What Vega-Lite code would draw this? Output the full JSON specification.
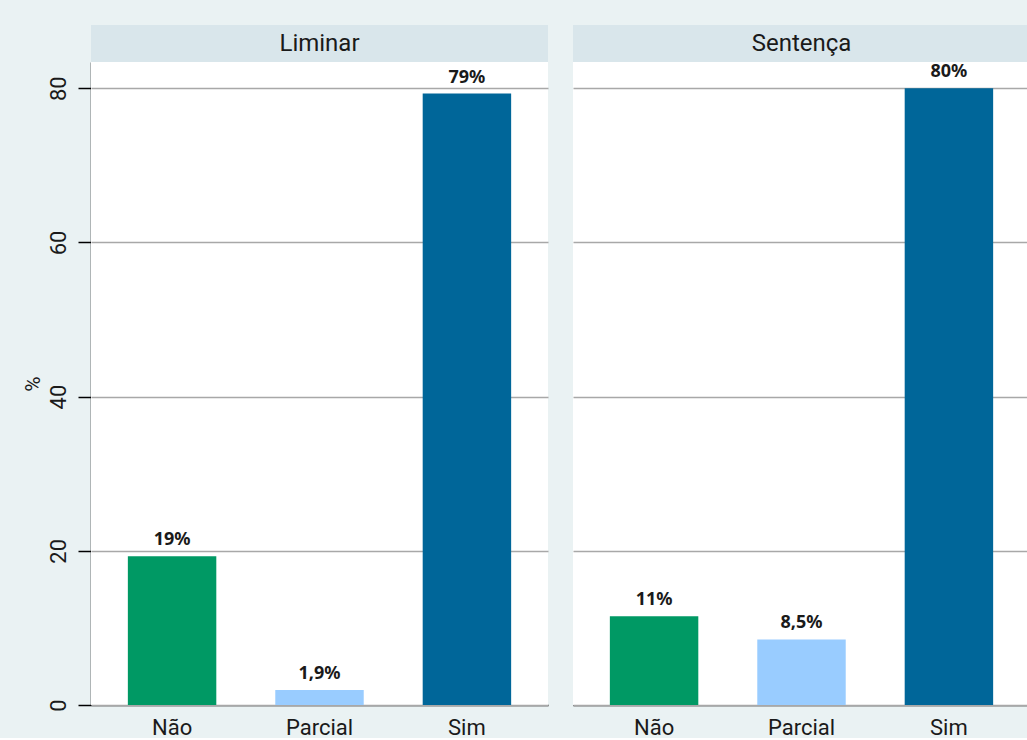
{
  "$schema": "https://vega.github.io/schema/vega-lite/v6.json",
  "background": "#EAF2F3",
  "padding": {"left": 22, "top": 25, "right": 0, "bottom": 0},
  "spacing": 0,
  "datasets": {
    "panels": [{"panel": "Liminar"}, {"panel": "Sentença"}],
    "bars": [
      {"panel": "Liminar", "cat": "Não", "value": 19.3, "label": "19%"},
      {"panel": "Liminar", "cat": "Parcial", "value": 1.95, "label": "1,9%"},
      {"panel": "Liminar", "cat": "Sim", "value": 79.3, "label": "79%"},
      {"panel": "Sentença", "cat": "Não", "value": 11.5, "label": "11%"},
      {"panel": "Sentença", "cat": "Parcial", "value": 8.5, "label": "8,5%"},
      {"panel": "Sentença", "cat": "Sim", "value": 80.0, "label": "80%"}
    ]
  },
  "vconcat": [
    {
      "data": {"name": "panels"},
      "facet": {
        "column": {"field": "panel", "type": "nominal", "sort": ["Liminar", "Sentença"], "header": {"title": null, "labels": false}}
      },
      "spacing": 25,
      "spec": {
        "width": 457,
        "height": 37,
        "view": {"fill": "#D9E6EB", "stroke": null},
        "mark": {"type": "text", "font": "Roboto", "fontSize": 24, "color": "#1a1a1a", "baseline": "middle"},
        "encoding": {
          "text": {"field": "panel"},
          "y": {
            "datum": 0.5,
            "type": "quantitative",
            "scale": {"domain": [0, 1]},
            "axis": {"title": "%", "values": [0.5], "labelExpr": "'00'", "labelColor": "transparent", "titleColor": "transparent", "tickColor": "transparent", "domainColor": "transparent", "grid": false}
          }
        }
      }
    },
    {
      "data": {"name": "bars"},
      "facet": {
        "column": {"field": "panel", "type": "nominal", "sort": ["Liminar", "Sentença"], "header": {"title": null, "labels": false}}
      },
      "spacing": 25,
      "spec": {
        "width": 457,
        "height": 643,
        "view": {"fill": "white", "stroke": null},
        "encoding": {
          "x": {
            "field": "cat",
            "type": "nominal",
            "sort": ["Não", "Parcial", "Sim"],
            "scale": {"paddingInner": 0.4, "paddingOuter": 0.25},
            "axis": {"title": null, "labelAngle": 0, "ticks": false, "labelPadding": 12, "labelFontSize": 22, "labelFont": "Roboto", "labelColor": "#1a1a1a", "domainColor": "#000000", "domainWidth": 1.5, "grid": false}
          },
          "y": {
            "field": "value",
            "type": "quantitative",
            "scale": {"domain": [0, 83.4], "nice": false},
            "axis": {"title": "%", "values": [0, 20, 40, 60, 80], "grid": true}
          }
        },
        "layer": [
          {
            "mark": {"type": "bar"},
            "encoding": {
              "color": {
                "field": "cat",
                "type": "nominal",
                "scale": {"domain": ["Não", "Parcial", "Sim"], "range": ["#009964", "#99CCFF", "#006699"]},
                "legend": null
              }
            }
          },
          {
            "mark": {"type": "text", "font": "Noto Sans", "fontWeight": "bold", "fontSize": 18, "color": "#1a1a1a", "baseline": "alphabetic", "dy": -11},
            "encoding": {"text": {"field": "label"}}
          }
        ]
      }
    }
  ],
  "config": {
    "axisY": {
      "labelAngle": -90,
      "labelAlign": "center",
      "labelBaseline": "bottom",
      "labelFont": "Roboto",
      "labelFontSize": 22,
      "labelColor": "#1a1a1a",
      "labelPadding": 8,
      "tickSize": 13,
      "tickColor": "#000000",
      "tickWidth": 1.5,
      "domainColor": "#000000",
      "domainWidth": 1.5,
      "gridColor": "#A8A8A8",
      "gridWidth": 1.3,
      "titleFont": "Roboto",
      "titleFontSize": 21,
      "titleFontWeight": "normal",
      "titleColor": "#1a1a1a",
      "titlePadding": 4
    }
  }
}
